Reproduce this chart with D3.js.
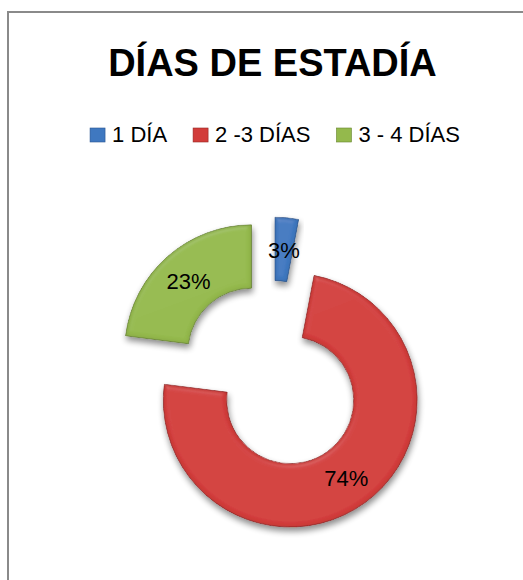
<!DOCTYPE html>
<html>
<head>
<meta charset="utf-8">
<script src="https://cdn.jsdelivr.net/npm/d3@7"></script>
<style>
  html, body { margin: 0; padding: 0; background: #fff; }
  svg { display: block; }
</style>
</head>
<body>
<div id="chart"></div>
<script>
const title = "DÍAS DE ESTADÍA";
const categories = ["1 DÍA", "2 -3 DÍAS", "3 - 4 DÍAS"];
const values = [3, 74, 23];
const labels = ["3%", "74%", "23%"];
const colors = ["#3f78c0", "#d23c3a", "#94b94c"];
const strokes = ["#2a5590", "#962624", "#66842c"];

const W = 523, H = 580;
const cx = 272, cy = 375;
const outerR = 127, innerR = 63.5, explode = 31;

const svg = d3.select("#chart").append("svg")
  .attr("width", W).attr("height", H);

const defs = svg.append("defs");
const f = defs.append("filter").attr("id", "bevel")
  .attr("x", "-20%").attr("y", "-20%").attr("width", "140%").attr("height", "140%");
// inner edge darkening
f.append("feGaussianBlur").attr("in", "SourceAlpha").attr("stdDeviation", 2.5).attr("result", "blur");
f.append("feComposite").attr("in", "SourceAlpha").attr("in2", "blur").attr("operator", "out").attr("result", "edge");
f.append("feFlood").attr("flood-color", "#000").attr("flood-opacity", 0.35).attr("result", "dark");
f.append("feComposite").attr("in", "dark").attr("in2", "edge").attr("operator", "in").attr("result", "edgeDark");
f.append("feComposite").attr("in", "edgeDark").attr("in2", "SourceGraphic").attr("operator", "over").attr("result", "withEdge");
// subtle highlight
const spec = f.append("feSpecularLighting").attr("in", "blur")
  .attr("surfaceScale", 3).attr("specularConstant", 0.5).attr("specularExponent", 20)
  .attr("lighting-color", "#ffffff").attr("result", "spec");
spec.append("fePointLight").attr("x", -3000).attr("y", -8000).attr("z", 9000);
f.append("feComposite").attr("in", "spec").attr("in2", "SourceAlpha").attr("operator", "in").attr("result", "specOut");
f.append("feComposite").attr("in", "withEdge").attr("in2", "specOut")
  .attr("operator", "arithmetic").attr("k1", 0).attr("k2", 1).attr("k3", 0.12).attr("k4", 0).attr("result", "lit");
f.append("feComposite").attr("in", "lit").attr("in2", "SourceAlpha").attr("operator", "in").attr("result", "litClip");
// drop shadow
f.append("feGaussianBlur").attr("in", "SourceAlpha").attr("stdDeviation", 3).attr("result", "sblur");
f.append("feOffset").attr("in", "sblur").attr("dx", 1).attr("dy", 4).attr("result", "soff");
f.append("feComponentTransfer").attr("in", "soff").attr("result", "shadow")
  .append("feFuncA").attr("type", "linear").attr("slope", 0.45);
const merge = f.append("feMerge");
merge.append("feMergeNode").attr("in", "shadow");
merge.append("feMergeNode").attr("in", "litClip");

// frame
svg.append("path")
  .attr("d", `M8,${H} V12 H${W}`)
  .attr("fill", "none").attr("stroke", "#8a8a8a").attr("stroke-width", 2);

// title
svg.append("text")
  .attr("x", 272.5).attr("y", 76)
  .attr("text-anchor", "middle")
  .attr("font-family", "'Liberation Sans', Arial, sans-serif")
  .attr("font-weight", "bold").attr("font-size", 38)
  .attr("fill", "#000")
  .text(title);

// legend
const legend = svg.append("g");
const items = legend.selectAll("g").data(categories).enter().append("g");
items.append("rect")
  .attr("width", 15).attr("height", 14)
  .attr("y", -14)
  .attr("fill", (d, i) => colors[i])
  .attr("stroke", (d, i) => strokes[i]).attr("stroke-width", 0.6);
items.append("text")
  .attr("x", 22).attr("y", 0)
  .attr("font-family", "'Liberation Sans', Arial, sans-serif")
  .attr("font-size", 22).attr("fill", "#000")
  .text(d => d);
let xpos = 0;
const positions = [];
items.each(function (d, i) {
  const tw = d3.select(this).select("text").node().getComputedTextLength();
  positions.push(xpos);
  xpos += 22 + tw + (i < categories.length - 1 ? 26 : 0);
});
const legendStart = 275 - xpos / 2;
items.attr("transform", (d, i) => `translate(${legendStart + positions[i]},142)`);

// doughnut
const pie = d3.pie().sort(null).value(d => d).startAngle(0).endAngle(2 * Math.PI);
const arc = d3.arc().innerRadius(innerR).outerRadius(outerR);
const arcs = pie(values);

const g = svg.append("g").attr("transform", `translate(${cx},${cy})`);
const slices = g.selectAll("g.slice").data(arcs).enter().append("g")
  .attr("class", "slice")
  .attr("transform", d => {
    const a = (d.startAngle + d.endAngle) / 2;
    return `translate(${explode * Math.sin(a)},${-explode * Math.cos(a)})`;
  });
slices.append("path")
  .attr("d", arc)
  .attr("fill", (d, i) => colors[i])
  .attr("stroke", (d, i) => strokes[i]).attr("stroke-width", 0.8)
  .attr("filter", "url(#bevel)");
slices.append("text")
  .attr("transform", d => `translate(${arc.centroid(d)})`)
  .attr("dy", "0.38em")
  .attr("text-anchor", "middle")
  .attr("font-family", "'Liberation Sans', Arial, sans-serif")
  .attr("font-size", 22).attr("fill", "#000")
  .text((d, i) => labels[i]);
</script>
</body>
</html>
